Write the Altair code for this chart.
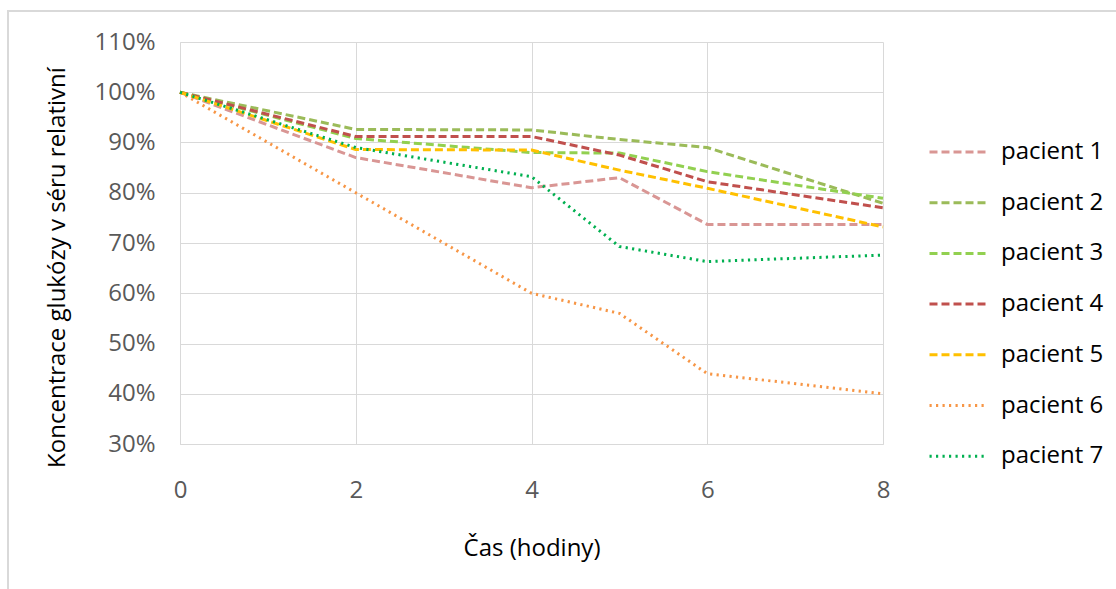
import altair as alt
import pandas as pd

hours = [0, 2, 4, 5, 6, 8]
patients = ["pacient 1", "pacient 2", "pacient 3", "pacient 4", "pacient 5", "pacient 6", "pacient 7"]
p1 = [1.00, 0.870, 0.810, 0.830, 0.737, 0.737]
p2 = [1.00, 0.926, 0.925, 0.906, 0.890, 0.779]
p3 = [1.00, 0.908, 0.880, 0.879, 0.842, 0.789]
p4 = [1.00, 0.912, 0.912, 0.875, 0.822, 0.770]
p5 = [1.00, 0.886, 0.885, 0.845, 0.809, 0.732]
p6 = [1.00, 0.800, 0.600, 0.560, 0.440, 0.400]
p7 = [1.00, 0.890, 0.832, 0.693, 0.663, 0.676]
series = [p1, p2, p3, p4, p5, p6, p7]
colors = ["#D99694", "#9BBB59", "#92D050", "#C0504D", "#FFC000", "#F79646", "#00B050"]
dashes = [[8, 4]] * 5 + [[2.2, 4.3]] * 2
x_ticks = [0, 2, 4, 6, 8]
y_ticks = [0.3, 0.4, 0.5, 0.6, 0.7, 0.8, 0.9, 1.0, 1.1]

rows = []
for name, vals in zip(patients, series):
    for h, v in zip(hours, vals):
        rows.append({"hodiny": h, "hodnota": v, "pacient": name})
df = pd.DataFrame(rows)

FONT = "Open Sans"
W, H = 703, 402
LEFT, TOP = 180, 42

lines = alt.Chart(df).mark_line(strokeWidth=3, strokeJoin="round").encode(
    x=alt.X("hodiny:Q",
            scale=alt.Scale(domain=[0, 8], nice=False),
            axis=alt.Axis(values=x_ticks, title="Čas (hodiny)", ticks=False,
                          labelPadding=46, labelBaseline="middle", labelFlush=False,
                          titleY=104, titleBaseline="middle")),
    y=alt.Y("hodnota:Q",
            scale=alt.Scale(domain=[0.3, 1.1], nice=False, zero=False),
            axis=alt.Axis(values=y_ticks, format=".0%", ticks=False,
                          title="Koncentrace glukózy v séru relativní",
                          labelPadding=25, titleX=-123, titleY=225,
                          titleBaseline="middle")),
    color=alt.Color("pacient:N", scale=alt.Scale(domain=patients, range=colors),
                    legend=alt.Legend(title=None)),
    strokeDash=alt.StrokeDash("pacient:N", scale=alt.Scale(domain=patients, range=dashes),
                              legend=alt.Legend(title=None)),
)

frame = alt.Chart(alt.Data(values=[{}])).mark_rect(
    fill="transparent", stroke="#D9D9D9", strokeWidth=2
).encode(
    x=alt.value(8 - LEFT), x2=alt.value(1200), y=alt.value(11 - TOP), y2=alt.value(700)
)

chart = alt.layer(frame, lines).properties(
    width=W, height=H,
    autosize=alt.AutoSizeParams(type="none"),
    padding={"left": LEFT, "top": TOP, "right": 1116 - LEFT - W, "bottom": 589 - TOP - H},
    background="white",
).configure_view(stroke=None).configure_axis(
    gridColor="#D9D9D9", gridWidth=1, domainColor="#D9D9D9", domainWidth=1,
    labelFont=FONT, labelFontSize=24, labelColor="#595959",
    titleFont=FONT, titleFontSize=24, titleColor="#000000", titleFontWeight="normal",
).configure_legend(
    orient="none", legendX=748, legendY=97,
    symbolType="stroke", symbolSize=3249, symbolStrokeWidth=3,
    clipHeight=26, rowPadding=24.7, labelOffset=13,
    labelFont=FONT, labelFontSize=24, labelColor="#000000",
)

chart.save("out.html", embed_options={"renderer": "svg", "actions": False})
